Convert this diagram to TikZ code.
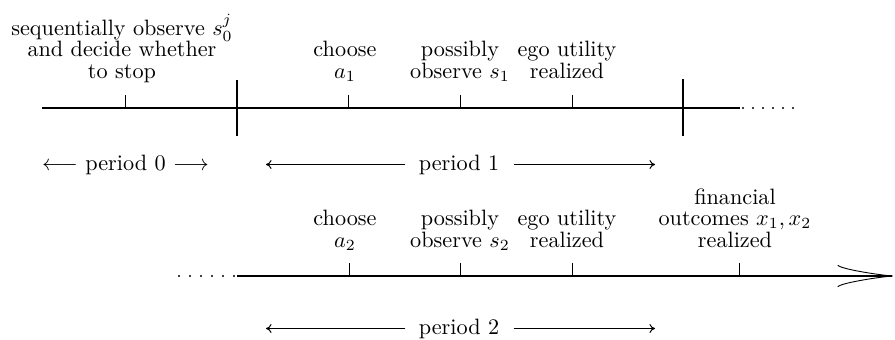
\documentclass[tikz,border=0pt]{standalone}
\usetikzlibrary{arrows.meta}
\newcommand\lstack[1]{\begin{tabular}[b]{@{}c@{}}#1\end{tabular}}
\begin{document}
\begin{tikzpicture}[x=0.45pt,y=-0.45pt,
  lbl/.style={anchor=base,inner sep=0pt,font=\fontsize{10}{9.5}\selectfont},
  axis/.style={line width=0.5pt},
  tickmark/.style={line width=0.45pt},
  bar/.style={line width=0.8pt},
  period/.style={line width=0.45pt,-{To[length=2.5pt,width=4pt]}},
  dotmark/.style={fill=black}]
\useasboundingbox (0,0) rectangle (895,339);

% ---------- top time line ----------
\coordinate (T0) at (42,108);
\coordinate (T1) at (740,108);
\draw[axis] (T0) -- (T1);
\foreach \x in {125,348,460,572} \draw[tickmark] (\x,108) -- (\x,95);
\coordinate (B0a) at (237,80);  \coordinate (B0b) at (237,136);
\coordinate (B1a) at (683,79);  \coordinate (B1b) at (683,136);
\draw[bar] (B0a) -- (B0b);
\draw[bar] (B1a) -- (B1b);
\foreach \x in {743,753,...,793} \fill[dotmark] (\x,108) circle (1.1);

\node[lbl] (s0) at (122,78) {\lstack{sequentially observe $s_0^j$\\and decide whether\\to stop}};
\node[lbl] (ch1) at (345,78) {\lstack{choose\\$a_1$}};
\node[lbl] (ob1) at (460,78) {\lstack{possibly\\observe $s_1$}};
\node[lbl] (eu1) at (567,78) {\lstack{ego utility\\realized}};

% period labels
\node[lbl] (p0) at (125.5,170) {$\longleftarrow$ period 0 $\longrightarrow$};
\node[lbl] (p1) at (459,170) {period 1};
\coordinate (p1l) at (266,164.5);
\coordinate (p1r) at (655,164.5);
\draw[period] (p1.west |- p1l) ++(-13,0) -- (p1l);
\draw[period] (p1.east |- p1r) ++(14,0) -- (p1r);

% ---------- bottom time line ----------
\coordinate (U0) at (237,276);
\coordinate (U1) at (893,276);
\draw[axis,-{Classical TikZ Rightarrow[length=25pt,width=10pt]}] (U0) -- (U1);
\foreach \x in {349,460,572,739} \draw[tickmark] (\x,276) -- (\x,263);
\foreach \x in {179,190,...,234} \fill[dotmark] (\x,276) circle (1.1);

\node[lbl] (ch2) at (345,247) {\lstack{choose\\$a_2$}};
\node[lbl] (ob2) at (460,247) {\lstack{possibly\\observe $s_2$}};
\node[lbl] (eu2) at (567,247) {\lstack{ego utility\\realized}};
\node[lbl] (fo) at (735,247) {\lstack{financial\\outcomes $x_1,x_2$\\realized}};

\node[lbl] (p2) at (459,334) {period 2};
\coordinate (p2l) at (266,328.5);
\coordinate (p2r) at (655,328.5);
\draw[period] (p2.west |- p2l) ++(-13,0) -- (p2l);
\draw[period] (p2.east |- p2r) ++(14,0) -- (p2r);
\end{tikzpicture}
\end{document}
